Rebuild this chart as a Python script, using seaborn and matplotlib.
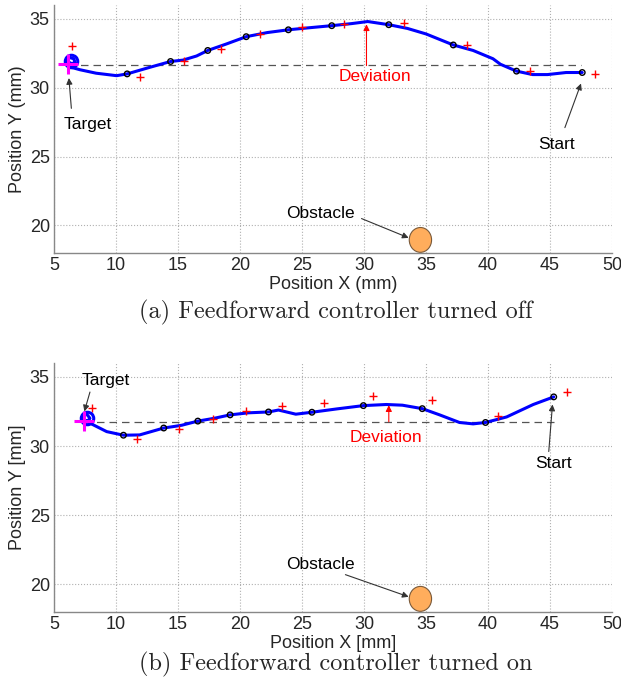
import matplotlib
matplotlib.use("Agg")
import matplotlib.pyplot as plt
from matplotlib.patches import Ellipse
import seaborn as sns

# ---------------- data (a): feedforward off ----------------
a_path_x = [47.6, 46.3, 44.8, 43.6, 42.3, 41.0, 40.4, 38.8, 37.2, 35.0, 33.5, 32.0, 30.3, 29.0,
            27.4, 25.6, 23.9, 22.2, 20.5, 18.9, 17.4, 16.5, 15.4, 14.4, 12.7, 10.9, 10.05, 8.4,
            7.1, 6.3, 6.1, 6.2, 6.6, 6.7, 6.4, 6.1]
a_path_y = [31.1, 31.1, 30.95, 30.95, 31.2, 31.7, 32.1, 32.7, 33.1, 33.9, 34.3, 34.57, 34.8, 34.65,
            34.5, 34.35, 34.2, 34.0, 33.7, 33.17, 32.7, 32.3, 32.0, 31.9, 31.47, 31.0, 30.87, 31.05,
            31.3, 31.5, 31.75, 32.2, 32.1, 31.8, 31.75, 31.9]
a_mark_x = [10.9, 14.4, 17.4, 20.5, 23.9, 27.4, 32.0, 37.2, 42.3, 47.6]
a_mark_y = [31.0, 31.9, 32.7, 33.7, 34.2, 34.5, 34.57, 33.1, 31.2, 31.1]
a_ref_x = [6.45, 11.9, 15.5, 18.5, 21.6, 25.0, 28.4, 33.2, 38.3, 43.4, 48.6]
a_ref_y = [33.0, 30.8, 31.9, 32.8, 33.9, 34.4, 34.6, 34.7, 33.1, 31.2, 31.0]
a_target = (6.15, 31.75)
a_start_x = 47.5
a_nominal_y = 31.65

# ---------------- data (b): feedforward on ----------------
b_path_x = [45.3, 43.65, 41.5, 39.8, 38.8, 37.7, 36.1, 34.7, 33.1, 31.8, 29.95, 27.8, 25.8, 24.5,
            23.1, 22.3, 20.7, 19.2, 17.9, 16.6, 15.3, 14.6, 13.85, 11.9, 10.6, 9.25, 7.9, 7.5,
            7.3, 7.6, 7.9, 7.7, 7.4]
b_path_y = [33.55, 33.0, 32.1, 31.7, 31.6, 31.7, 32.25, 32.7, 32.95, 33.0, 32.92, 32.68, 32.44, 32.3,
            32.6, 32.46, 32.4, 32.25, 32.0, 31.8, 31.5, 31.4, 31.3, 30.8, 30.78, 31.04, 31.65, 31.85,
            32.2, 32.35, 32.0, 31.8, 31.9]
b_mark_x = [10.6, 13.85, 16.6, 19.2, 22.3, 25.8, 29.95, 34.7, 39.8, 45.3]
b_mark_y = [30.78, 31.3, 31.8, 32.25, 32.46, 32.44, 32.92, 32.7, 31.7, 33.55]
b_ref_x = [8.1, 11.7, 15.05, 17.8, 20.5, 23.4, 26.8, 30.75, 35.5, 40.8, 46.4]
b_ref_y = [32.75, 30.5, 31.2, 31.98, 32.56, 32.92, 33.1, 33.6, 33.35, 32.2, 33.9]
b_target = (7.45, 31.8)
b_start_x = 45.3
b_nominal_y = 31.7

obstacle = (34.55, 18.95)
obstacle_d = 1.8

x_ticks = [5, 10, 15, 20, 25, 30, 35, 40, 45, 50]
y_ticks = [20, 25, 30, 35]

sns.set_style("white")
plt.rcParams['font.family'] = ['Liberation Sans', 'DejaVu Sans']

fig = plt.figure(figsize=(6.21, 6.89), dpi=100)
ax_a = fig.add_axes([54/621, 1-253/689, 558/621, 248/689])
ax_b = fig.add_axes([54/621, 1-612/689, 558/621, 249/689])


def draw(ax, px, py, mx, my, rx, ry, target, start_x, nominal_y, xlabel, ylabel,
         texts, arrows):
    ax.plot([target[0], start_x], [nominal_y, nominal_y], ls=(0, (6, 4)), color='#555555', lw=0.9, zorder=2)
    sns.lineplot(x=px, y=py, sort=False, estimator=None, color='#0000ff', lw=2.2, ax=ax, zorder=3)
    sns.scatterplot(x=mx, y=my, marker='o', s=16, facecolor='none', edgecolor='black',
                    linewidth=1.0, ax=ax, zorder=4)
    sns.scatterplot(x=rx, y=ry, marker='+', s=28, color='red', linewidth=1.0, ax=ax, zorder=4)
    ax.plot([target[0] + 0.25], [target[1] + 0.2], marker='o', ms=9, mfc='none', mec='#0000ff', mew=2.2, zorder=4)
    ax.plot([target[0]], [target[1]], marker='+', ms=14, color='magenta', mew=2.2, zorder=5)
    ax.add_patch(Ellipse(obstacle, obstacle_d, obstacle_d, facecolor='#ffad5c', edgecolor='#7a5a3a',
                         lw=0.8, zorder=4))
    ax.set_xlim(5, 50)
    ax.set_ylim(18, 36)
    ax.set_xticks(x_ticks)
    ax.set_yticks(y_ticks)
    ax.grid(True, ls=':', color='#b0b0b0', lw=0.8)
    for s in ['top', 'right']:
        ax.spines[s].set_visible(False)
    for s in ['left', 'bottom']:
        ax.spines[s].set_color('#888888')
        ax.spines[s].set_linewidth(1.0)
    ax.tick_params(direction='in', length=4, width=0.8, color='#888888', labelsize=13,
                   pad=3)
    ax.set_xlabel(xlabel, fontsize=13, labelpad=1)
    ax.set_ylabel(ylabel, fontsize=13, labelpad=3)
    for text, pos, col in texts:
        ax.text(pos[0], pos[1], text, color=col, fontsize=12.5, ha='center', va='center', zorder=6)
    for start, tip, col in arrows:
        ax.annotate('', xy=tip, xytext=start,
                    arrowprops=dict(arrowstyle='-|>', color=col, lw=0.8, mutation_scale=9,
                                    shrinkA=0, shrinkB=0),
                    zorder=6)


draw(ax_a, a_path_x, a_path_y, a_mark_x, a_mark_y, a_ref_x, a_ref_y, a_target, a_start_x,
     a_nominal_y, 'Position X (mm)', 'Position Y (mm)',
     [('Target', (7.7, 27.3), 'black'),
      ('Deviation', (30.9, 30.8), 'red'),
      ('Start', (45.5, 25.9), 'black'),
      ('Obstacle', (26.5, 20.9), 'black')],
     [((6.4, 28.5), (6.2, 30.7), '#333333'),
      ((30.2, 31.6), (30.2, 34.6), 'red'),
      ((46.2, 27.1), (47.5, 30.3), '#333333'),
      ((29.8, 20.5), (33.6, 19.1), '#333333')])

draw(ax_b, b_path_x, b_path_y, b_mark_x, b_mark_y, b_ref_x, b_ref_y, b_target, b_start_x,
     b_nominal_y, 'Position X [mm]', 'Position Y [mm]',
     [('Target', (9.2, 34.7), 'black'),
      ('Deviation', (31.8, 30.6), 'red'),
      ('Start', (45.3, 28.7), 'black'),
      ('Obstacle', (26.5, 21.45), 'black')],
     [((7.9, 33.9), (7.45, 32.5), '#333333'),
      ((32.0, 31.75), (32.0, 32.95), 'red'),
      ((44.9, 29.6), (45.2, 33.0), '#333333'),
      ((28.5, 20.7), (33.6, 19.1), '#333333')])

fig.text(336/621, 1-312/689, '(a) Feedforward controller turned off', family='cmr10',
         fontsize=17.5, ha='center', va='center')
fig.text(336/621, 1-664/689, '(b) Feedforward controller turned on', family='cmr10',
         fontsize=17.5, ha='center', va='center')

fig.savefig('out.png', dpi=100)
